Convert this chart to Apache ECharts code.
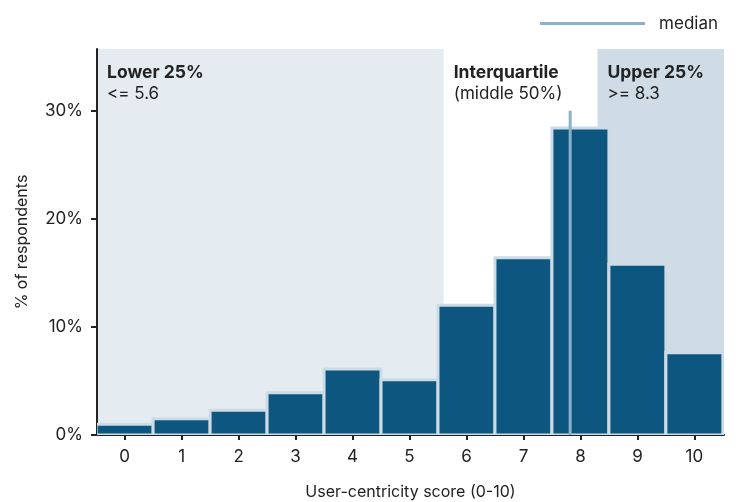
<!DOCTYPE html>
<html>
<head>
<meta charset="utf-8">
<script src="https://cdn.jsdelivr.net/npm/echarts@6/dist/echarts.min.js"></script>
<style>html,body{margin:0;padding:0;background:#fff}#c{width:739px;height:502px}</style>
</head>
<body>
<div id="c"></div>
<script>
const scores = [0, 1, 2, 3, 4, 5, 6, 7, 8, 9, 10];
const percents = [1.0, 1.5, 2.3, 3.9, 6.1, 5.1, 12.0, 16.4, 28.4, 15.8, 7.6];
const medianScore = 7.82;
const medianTop = 30;
const lowerCut = 5.6;
const upperCut = 8.3;
const yTicks = [0, 10, 20, 30];

const FONT = 'Inter, "Noto Sans", sans-serif';
const chart = echarts.init(document.getElementById('c'), null, {renderer: 'canvas'});
const xMin = -0.485, xMax = 10.52;
const labelRich = {
  b: {fontFamily: FONT, fontSize: 17.5, fontWeight: 'bold', color: '#222', lineHeight: 21},
  n: {fontFamily: FONT, fontSize: 17, color: '#222', lineHeight: 21}
};

chart.setOption({
  animation: false,
  textStyle: {fontFamily: FONT},
  grid: {left: 97, right: 15, top: 49, bottom: 67, outerBoundsMode: 'none', containLabel: false},
  legend: {
    right: 16, top: 10,
    itemWidth: 105, itemHeight: 3,
    data: [{name: 'median', icon: 'rect', itemStyle: {color: '#8cb2ca'}}],
    textStyle: {fontFamily: FONT, fontSize: 17, color: '#222', padding: [0, 0, 0, 9]}
  },
  xAxis: {
    type: 'value', min: xMin, max: xMax, interval: 1,
    name: 'User-centricity score (0-10)', nameLocation: 'middle', nameGap: 49,
    nameTextStyle: {fontSize: 16, color: '#222', fontFamily: FONT},
    axisLine: {show: true, onZero: false, lineStyle: {color: '#222', width: 2}},
    axisTick: {show: true, length: 5, lineStyle: {color: '#222', width: 2}, customValues: scores},
    axisLabel: {fontSize: 17, color: '#222', margin: 13, customValues: scores, fontFamily: FONT},
    splitLine: {show: false}
  },
  yAxis: {
    type: 'value', min: 0, max: 35.7, interval: 10,
    name: '% of respondents', nameLocation: 'middle', nameGap: 67,
    nameTextStyle: {fontSize: 16, color: '#222', fontFamily: FONT},
    axisLine: {show: true, onZero: false, lineStyle: {color: '#222', width: 2}},
    axisTick: {show: true, length: 6, lineStyle: {color: '#222', width: 2}, customValues: yTicks},
    axisLabel: {fontSize: 17, color: '#222', margin: 14, customValues: yTicks, formatter: v => v + '%', fontFamily: FONT},
    splitLine: {show: false}
  },
  series: [
    {
      type: 'custom',
      clip: true,
      silent: true,
      data: scores.map((s, i) => [s, percents[i]]),
      encode: {x: 0, y: 1},
      renderItem: function (params, api) {
        const a = api.coord([api.value(0) - 0.5, api.value(1)]);
        const b = api.coord([api.value(0) + 0.5, 0]);
        return {
          type: 'rect',
          shape: {x: a[0], y: a[1], width: b[0] - a[0], height: b[1] - a[1]},
          style: {fill: '#0d567f', stroke: '#cddbe5', lineWidth: 3}
        };
      },
      z: 2
    },
    {
      name: 'median',
      type: 'line',
      symbol: 'none',
      silent: true,
      data: [[medianScore, 0], [medianScore, medianTop]],
      lineStyle: {color: '#8cb2ca', width: 3},
      itemStyle: {color: '#8cb2ca'},
      z: 3,
      markArea: {
        silent: true,
        z: -10,
        data: [
          [{xAxis: xMin, itemStyle: {color: '#e4ecf1'},
            label: {formatter: '{b|Lower 25%}\n{n|<= 5.6}'}}, {xAxis: lowerCut}],
          [{xAxis: lowerCut, itemStyle: {color: 'rgba(255,255,255,0)'},
            label: {formatter: '{b|Interquartile}\n{n|(middle 50%)}'}}, {xAxis: upperCut}],
          [{xAxis: upperCut, itemStyle: {color: '#cfdce6'},
            label: {formatter: '{b|Upper 25%}\n{n|>= 8.3}'}}, {xAxis: xMax}]
        ],
        label: {
          show: true, position: 'insideTopLeft', distance: 10,
          padding: [3, 0, 0, 0],
          rich: labelRich
        }
      }
    }
  ]
});
</script>
</body>
</html>
